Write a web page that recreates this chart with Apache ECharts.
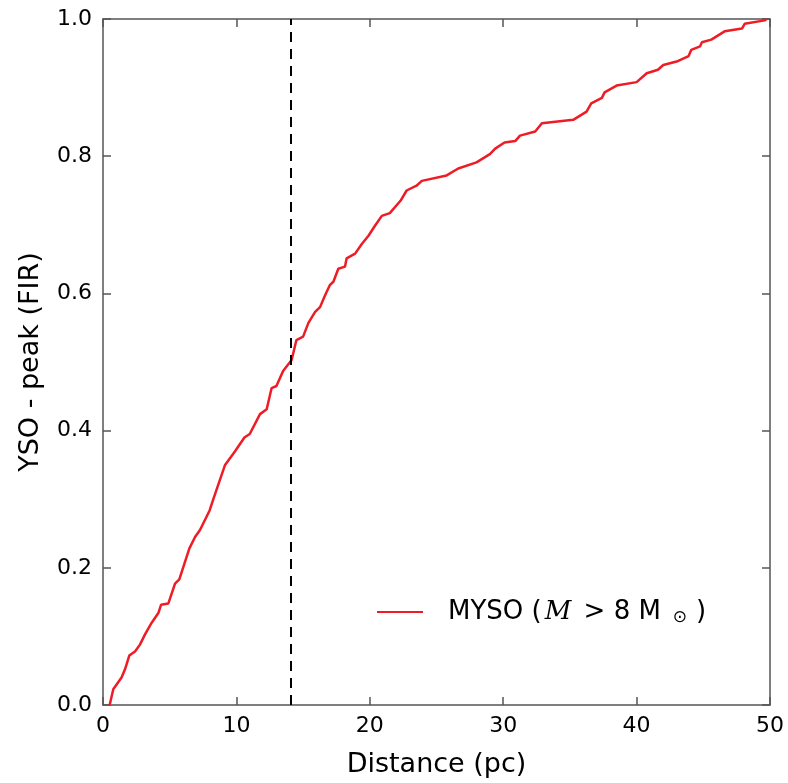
<!DOCTYPE html>
<html>
<head>
<meta charset="utf-8">
<script src="https://cdn.jsdelivr.net/npm/echarts@6/dist/echarts.min.js"></script>
<style>html,body{margin:0;padding:0;background:#fff}#c{width:788px;height:783px}</style>
</head>
<body>
<div id="c"></div>
<script>
var distance = [0.5,0.77,1.39,1.65,1.97,2.4,2.77,3.15,3.65,4.15,4.35,4.9,5.4,5.72,6.47,6.9,7.27,7.65,8.0,8.27,9.15,9.9,10.6,11.0,11.77,12.27,12.64,13.0,13.5,14.14,14.5,15.0,15.4,15.9,16.27,16.64,17.0,17.27,17.64,18.14,18.26,18.9,19.4,19.9,20.4,20.9,21.5,22.3,22.76,23.5,23.9,25.76,26.63,28.0,29.0,29.4,30.1,30.9,31.26,32.4,32.9,35.25,36.25,36.6,37.4,37.6,38.5,40.0,40.76,41.6,42.0,43.0,43.9,44.1,44.75,44.9,45.6,46.6,47.9,48.1,49.6,49.75];
var fraction = [0.0,0.023,0.040,0.052,0.072,0.078,0.088,0.103,0.12,0.134,0.146,0.148,0.177,0.183,0.228,0.245,0.255,0.27,0.284,0.30,0.35,0.37,0.39,0.395,0.424,0.431,0.462,0.465,0.487,0.503,0.532,0.537,0.557,0.573,0.58,0.597,0.612,0.617,0.636,0.639,0.651,0.658,0.672,0.684,0.699,0.713,0.717,0.735,0.75,0.757,0.764,0.772,0.782,0.791,0.803,0.811,0.82,0.822,0.83,0.836,0.848,0.853,0.865,0.877,0.885,0.893,0.903,0.908,0.921,0.926,0.933,0.938,0.946,0.955,0.96,0.966,0.97,0.982,0.986,0.993,0.998,1.0];
var xTicks = [0,10,20,30,40,50];
var yTicks = [0.0,0.2,0.4,0.6,0.8,1.0];
var thresholdDistance = 14.1;

var pts = distance.map(function(d,i){return [d, fraction[i]];});
var chart = echarts.init(document.getElementById('c'));
var axisCol = '#555';
var fnt = 'DejaVu Sans';
chart.setOption({
  animation:false,
  backgroundColor:'#fff',
  grid:{left:103,right:18,top:19,bottom:74},
  legend:{
    left:372, top:594, itemWidth:46, itemHeight:14, itemGap:10,
    data:[{name:'MYSO', icon:'path://M0,6L46,6L46,8L0,8Z'}],
    formatter:function(){return '{a|MYSO (}{it|M}{a| > 8 M}{s|⊙}{a|)}';},
    textStyle:{
      padding:[0,0,0,20],
      rich:{
        a:{fontFamily:fnt,fontSize:26,color:'#000'},
        it:{fontFamily:'DejaVu Serif',fontStyle:'italic',fontSize:26,color:'#000',padding:[0,4,0,3]},
        s:{fontFamily:fnt,fontSize:17,color:'#000',padding:[12,9,0,12]}
      }
    }
  },
  xAxis:[{
    type:'value', min:0, max:50, interval:10,
    name:'Distance (pc)', nameLocation:'middle', nameGap:46,
    nameTextStyle:{fontFamily:fnt,fontSize:27,color:'#000'},
    axisLine:{lineStyle:{color:axisCol,width:1.5}},
    axisTick:{inside:true,length:8,lineStyle:{color:axisCol,width:1.5}},
    axisLabel:{fontFamily:fnt,fontSize:22,color:'#000',margin:10,
      formatter:function(v){return xTicks.indexOf(v)>=0?String(v):'';}},
    splitLine:{show:false}
  },{
    type:'value', min:0, max:50, interval:10, position:'top',
    axisLine:{onZero:false,lineStyle:{color:axisCol,width:1.5}},
    axisTick:{inside:true,length:8,lineStyle:{color:axisCol,width:1.5}},
    axisLabel:{show:false}, splitLine:{show:false}
  }],
  yAxis:[{
    type:'value', min:0, max:1, interval:0.2,
    name:'YSO - peak (FIR)', nameLocation:'middle', nameGap:59,
    nameTextStyle:{fontFamily:fnt,fontSize:27,color:'#000'},
    axisLine:{lineStyle:{color:axisCol,width:1.5}},
    axisTick:{inside:true,length:8,lineStyle:{color:axisCol,width:1.5}},
    axisLabel:{fontFamily:fnt,fontSize:22,color:'#000',margin:11,
      formatter:function(v){return v.toFixed(1);}},
    splitLine:{show:false}
  },{
    type:'value', min:0, max:1, interval:0.2, position:'right',
    axisLine:{onZero:false,lineStyle:{color:axisCol,width:1.5}},
    axisTick:{inside:true,length:8,lineStyle:{color:axisCol,width:1.5}},
    axisLabel:{show:false}, splitLine:{show:false}
  }],
  series:[{
    name:'MYSO', type:'line', data:pts, showSymbol:false, symbol:'none',
    lineStyle:{color:'#ee1c25',width:2.5}, itemStyle:{color:'#ee1c25'},
    markLine:{
      silent:true, symbol:['none','none'], label:{show:false},
      lineStyle:{color:'#000',width:2,type:[10,7]},
      data:[{xAxis:thresholdDistance}]
    }
  }]
});
</script>
</body>
</html>
